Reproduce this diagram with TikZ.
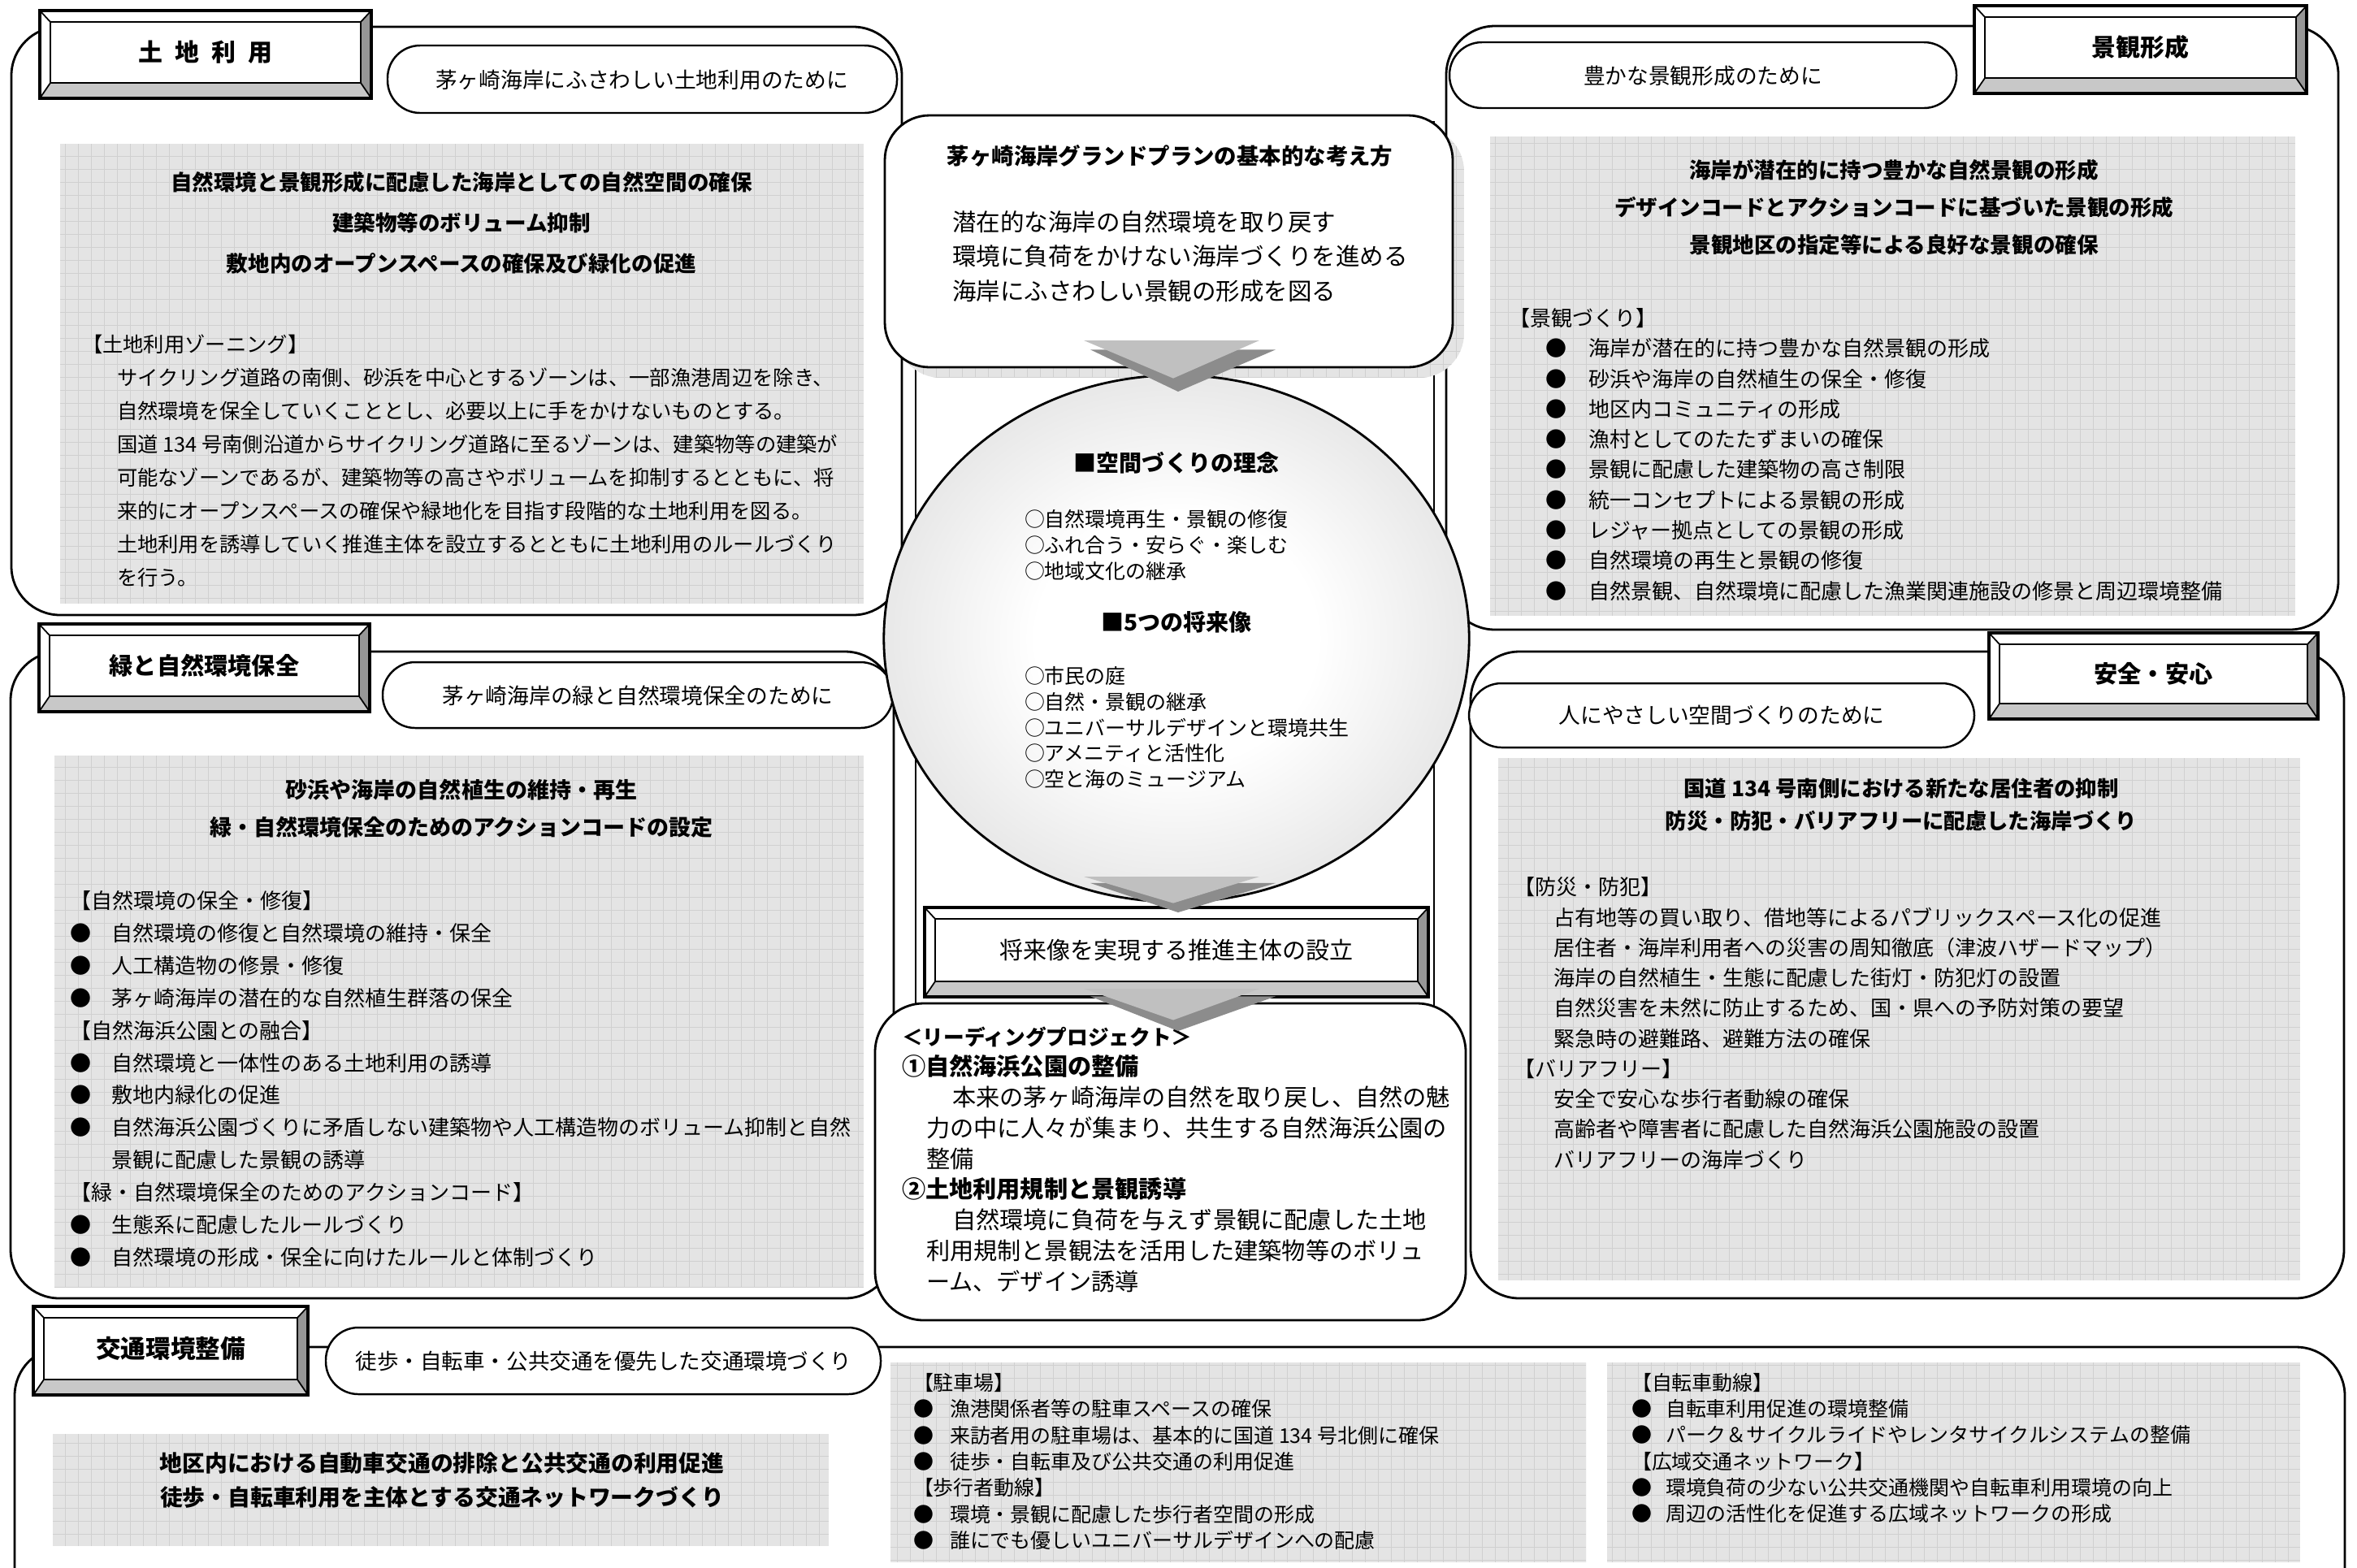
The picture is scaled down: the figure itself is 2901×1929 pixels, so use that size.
\documentclass[tikz,border=0pt]{standalone}
\usepackage{fontspec}
\setmainfont{Noto Sans CJK JP}
\usetikzlibrary{calc}
\definecolor{boxfill}{RGB}{228,228,228}
\definecolor{gridc}{RGB}{208,208,208}
\definecolor{bevlight}{RGB}{200,200,200}
\definecolor{bevdark}{RGB}{150,150,150}
\definecolor{chevlight}{RGB}{192,192,192}
\definecolor{chevdark}{RGB}{140,140,140}
\definecolor{ballout}{RGB}{188,188,188}
\pgfdeclareradialshading{ballsh}{\pgfpoint{0bp}{0bp}}{color(0bp)=(white); color(12bp)=(white); color(50bp)=(ballout)}
\newcommand\fs[2]{\fontsize{#1}{#2}\selectfont}
\newcommand\bul[1]{\makebox[#1][l]{●}}
\tikzset{
  sect/.style={draw=black, line width=0.8pt, fill=white, rounded corners=0.6cm},
  pill/.style={draw=black, line width=0.7pt, fill=white, rounded corners=0.4cm},
  txt/.style={inner sep=0pt, outer sep=0pt, align=left, anchor=west},
  ctxt/.style={inner sep=0pt, outer sep=0pt, align=center},
}
\newcommand\gridfill[4]{%
  \fill[boxfill] (#1,#2) rectangle (#3,#4);
  \begin{scope}
    \clip (#1,#2) rectangle (#3,#4);
    \draw[gridc, line width=0.25pt] \foreach \g in {0,16,...,2912} {(\g,#2) -- (\g,#4)};
    \draw[gridc, line width=0.25pt] \foreach \g in {0,16,...,1936} {(#1,\g) -- (#3,\g)};
  \end{scope}}
\newcommand\bevel[6]{%
  \fill[white] (#2,#3) rectangle (#4,#5);
  \fill[bevlight] (#2,#5) -- (#4,#5) -- ({#4-13},{#5-19}) -- ({#2+13},{#5-19}) -- cycle;
  \fill[bevdark] (#4,#3) -- (#4,#5) -- ({#4-13},{#5-19}) -- ({#4-13},{#3+14}) -- cycle;
  \draw[line width=0.9pt] (#2,#3) rectangle (#4,#5);
  \draw[line width=0.6pt] ({#2+13},{#3+14}) rectangle ({#4-13},{#5-19});
  \draw[line width=0.5pt] (#2,#3) -- ({#2+13},{#3+14}) (#4,#3) -- ({#4-13},{#3+14})
     (#2,#5) -- ({#2+13},{#5-19}) (#4,#5) -- ({#4-13},{#5-19});
  \node[ctxt] (#1) at ({(#2+#4)/2},{(#3+#5-5)/2}) {#6};}
% name, cx, top, height
\newcommand\chev[4]{%
  \coordinate (#1) at (#2,#3);
  \fill[chevdark] ({#2-108},{#3+0.18*#4}) -- ({#2+120},{#3+0.18*#4}) -- (#2,{#3+#4}) -- cycle;
  \fill[chevlight] ({#2-116},#3) -- ({#2+100},#3) -- ({#2-6},{#3+0.74*#4}) -- cycle;}

\begin{document}
\begin{tikzpicture}[x=0.01cm,y=-0.01cm]
\useasboundingbox (0,0) rectangle (2901,1929);
\clip (0,0) rectangle (2901,1929);
\fill[white] (0,0) rectangle (2901,1929);

% ---------- section frames
\draw[sect] (14,33) rectangle (1110,757);
\draw[sect] (1780,32) rectangle (2878,775);
\draw[sect] (13,802) rectangle (1100,1598);
\draw[sect] (1810,802) rectangle (2885,1598);
\draw[sect] (18,1658) rectangle (2886,2000);

% ---------- top-left: land use
\gridfill{74}{177}{1063}{743}
\bevel{tlt}{49}{13}{457}{121}{\bfseries\fs{8.5}{10}土\hspace{0.5em}地\hspace{0.5em}利\hspace{0.5em}用}
\draw[pill] (477,56) rectangle (1104,139);
\node[ctxt, font=\fs{7.6}{9}] (tlp) at (790,98) {茅ヶ崎海岸にふさわしい土地利用のために};
\node[ctxt, font=\bfseries\fs{7.54}{14.2}] (tlh) at (568,274) {自然環境と景観形成に配慮した海岸としての自然空間の確保\\建築物等のボリューム抑制\\敷地内のオープンスペースの確保及び緑化の促進};
\node[txt, font=\fs{7.2}{11.67}] (tlk) at (101,424) {【土地利用ゾーニング】};
\node[txt, font=\fs{7.2}{11.67}] (tlb) at (144,588) {サイクリング道路の南側、砂浜を中心とするゾーンは、一部漁港周辺を除き、\\自然環境を保全していくこととし、必要以上に手をかけないものとする。\\国道 134 号南側沿道からサイクリング道路に至るゾーンは、建築物等の建築が\\可能なゾーンであるが、建築物等の高さやボリュームを抑制するとともに、将\\来的にオープンスペースの確保や緑地化を目指す段階的な土地利用を図る。\\土地利用を誘導していく推進主体を設立するとともに土地利用のルールづくり\\を行う。};

% ---------- top-right: landscape
\gridfill{1834}{168}{2825}{758}
\bevel{trt}{2430}{7}{2839}{115}{\bfseries\fs{8.5}{10}景観形成}
\draw[pill] (1784,52) rectangle (2408,133);
\node[ctxt, font=\fs{7.6}{9}] (trp) at (2096,93) {豊かな景観形成のために};
\node[ctxt, font=\bfseries\fs{7.54}{13.1}] (trh) at (2331,255) {海岸が潜在的に持つ豊かな自然景観の形成\\デザインコードとアクションコードに基づいた景観の形成\\景観地区の指定等による良好な景観の確保};
\node[txt, font=\fs{7.4}{10.6}] (trk) at (1857,392) {【景観づくり】};
\node[txt, font=\fs{7.4}{10.6}] (trb) at (1902,578) {\bul{0.53cm}海岸が潜在的に持つ豊かな自然景観の形成\\\bul{0.53cm}砂浜や海岸の自然植生の保全・修復\\\bul{0.53cm}地区内コミュニティの形成\\\bul{0.53cm}漁村としてのたたずまいの確保\\\bul{0.53cm}景観に配慮した建築物の高さ制限\\\bul{0.53cm}統一コンセプトによる景観の形成\\\bul{0.53cm}レジャー拠点としての景観の形成\\\bul{0.53cm}自然環境の再生と景観の修復\\\bul{0.53cm}自然景観、自然環境に配慮した漁業関連施設の修景と周辺環境整備};

% ---------- middle-left: green
\gridfill{67}{930}{1063}{1585}
\bevel{mlt}{48}{768}{455}{876}{\bfseries\fs{8.3}{10}緑と自然環境保全}
\draw[pill] (471,815) rectangle (1099,896);
\node[ctxt, font=\fs{7.6}{9}] (mlp) at (785,856) {茅ヶ崎海岸の緑と自然環境保全のために};
\node[ctxt, font=\bfseries\fs{7.68}{13.09}] (mlh) at (568,995) {砂浜や海岸の自然植生の維持・再生\\緑・自然環境保全のためのアクションコードの設定};
\node[txt, font=\fs{7.4}{11.33}] (mlb) at (86,1328) {【自然環境の保全・修復】\\\bul{0.51cm}自然環境の修復と自然環境の維持・保全\\\bul{0.51cm}人工構造物の修景・修復\\\bul{0.51cm}茅ヶ崎海岸の潜在的な自然植生群落の保全\\【自然海浜公園との融合】\\\bul{0.51cm}自然環境と一体性のある土地利用の誘導\\\bul{0.51cm}敷地内緑化の促進\\\bul{0.51cm}自然海浜公園づくりに矛盾しない建築物や人工構造物のボリューム抑制と自然\\\hspace*{0.51cm}景観に配慮した景観の誘導\\【緑・自然環境保全のためのアクションコード】\\\bul{0.51cm}生態系に配慮したルールづくり\\\bul{0.51cm}自然環境の形成・保全に向けたルールと体制づくり};

% ---------- middle-right: safety
\gridfill{1844}{933}{2831}{1576}
\bevel{mrt}{2448}{779}{2853}{885}{\bfseries\fs{8.3}{10}安全・安心}
\draw[pill] (1808,841) rectangle (2430,920);
\node[ctxt, font=\fs{7.6}{9}] (mrp) at (2119,880) {人にやさしい空間づくりのために};
\node[ctxt, font=\bfseries\fs{7.5}{11.38}] (mrh) at (2340,990) {国道 134 号南側における新たな居住者の抑制\\防災・防犯・バリアフリーに配慮した海岸づくり};
\node[txt, font=\fs{7.4}{10.59}] (mrb) at (1863,1259.5) {【防災・防犯】\\\hspace*{0.49cm}占有地等の買い取り、借地等によるパブリックスペース化の促進\\\hspace*{0.49cm}居住者・海岸利用者への災害の周知徹底（津波ハザードマップ）\\\hspace*{0.49cm}海岸の自然植生・生態に配慮した街灯・防犯灯の設置\\\hspace*{0.49cm}自然災害を未然に防止するため、国・県への予防対策の要望\\\hspace*{0.49cm}緊急時の避難路、避難方法の確保\\【バリアフリー】\\\hspace*{0.49cm}安全で安心な歩行者動線の確保\\\hspace*{0.49cm}高齢者や障害者に配慮した自然海浜公園施設の設置\\\hspace*{0.49cm}バリアフリーの海岸づくり};

% ---------- bottom: traffic
\gridfill{65}{1765}{1020}{1903}
\gridfill{1096}{1677}{1952}{1923}
\gridfill{1978}{1677}{2831}{1923}
\bevel{bt}{41}{1608}{379}{1717}{\bfseries\fs{8.7}{10}交通環境整備}
\draw[pill] (401,1634) rectangle (1084,1716);
\node[ctxt, font=\fs{7.55}{9}] (bp) at (743,1675) {徒歩・自転車・公共交通を優先した交通環境づくり};
\node[ctxt, font=\bfseries\fs{7.9}{12.2}] (bh) at (544,1822) {地区内における自動車交通の排除と公共交通の利用促進\\徒歩・自転車利用を主体とする交通ネットワークづくり};
\node[txt, font=\fs{7.1}{9.2}] (bm) at (1124,1799) {【駐車場】\\\bul{0.45cm}漁港関係者等の駐車スペースの確保\\\bul{0.45cm}来訪者用の駐車場は、基本的に国道 134 号北側に確保\\\bul{0.45cm}徒歩・自転車及び公共交通の利用促進\\【歩行者動線】\\\bul{0.45cm}環境・景観に配慮した歩行者空間の形成\\\bul{0.45cm}誰にでも優しいユニバーサルデザインへの配慮};
\node[txt, font=\fs{7.1}{9.2}, anchor=north west] (br) at (2008,1690) {【自転車動線】\\\bul{0.42cm}自転車利用促進の環境整備\\\bul{0.42cm}パーク＆サイクルライドやレンタサイクルシステムの整備\\【広域交通ネットワーク】\\\bul{0.42cm}環境負荷の少ない公共交通機関や自転車利用環境の向上\\\bul{0.42cm}周辺の活性化を促進する広域ネットワークの形成};

% ---------- central column
\draw[line width=0.7pt, fill=white] (1127,150) rectangle (1765,1240);
\begin{scope}
  \clip[rounded corners=0.55cm] (1103,156) rectangle (1802,465);
  \gridfill{1103}{156}{1802}{465}
\end{scope}
\draw[line width=0.8pt, fill=white, rounded corners=0.55cm] (1089,142) rectangle (1788,452);
\node[ctxt, font=\bfseries\fs{7.8}{10}] (kh) at (1440,192) {茅ヶ崎海岸グランドプランの基本的な考え方};
\node[txt, font=\fs{8.39}{12.09}] (kb) at (1172,315.5) {潜在的な海岸の自然環境を取り戻す\\環境に負荷をかけない海岸づくりを進める\\海岸にふさわしい景観の形成を図る};

\shade[shading=ballsh] (1448,786) ellipse [x radius=3.6cm, y radius=3.24cm];
\draw[line width=0.8pt] (1448,786) ellipse [x radius=3.6cm, y radius=3.24cm];
\node[ctxt, font=\bfseries\fs{7.97}{9}] (c1) at (1448,570) {■空間づくりの理念};
\node[txt, font=\fs{7.1}{9.1}] (c2) at (1261,671) {○自然環境再生・景観の修復\\○ふれ合う・安らぐ・楽しむ\\○地域文化の継承};
\node[ctxt, font=\bfseries\fs{7.97}{9}] (c3) at (1448,766) {■5つの将来像};
\node[txt, font=\fs{7.1}{9.03}] (c4) at (1261,895.5) {○市民の庭\\○自然・景観の継承\\○ユニバーサルデザインと環境共生\\○アメニティと活性化\\○空と海のミュージアム};

\bevel{sui}{1138}{1117}{1758}{1227}{\fs{8.25}{10}将来像を実現する推進主体の設立}

\draw[line width=0.8pt, fill=white, rounded corners=0.6cm] (1077,1235) rectangle (1804,1625);
\node[txt, font=\fs{8.3}{10.74}] (lead) at (1110,1427) {{\bfseries\fs{7.3}{10.74}＜リーディングプロジェクト＞}\\{\bfseries ①自然海浜公園の整備}\\\hspace*{0.62cm}本来の茅ヶ崎海岸の自然を取り戻し、自然の魅\\\hspace*{0.3cm}力の中に人々が集まり、共生する自然海浜公園の\\\hspace*{0.3cm}整備\\{\bfseries ②土地利用規制と景観誘導}\\\hspace*{0.62cm}自然環境に負荷を与えず景観に配慮した土地\\\hspace*{0.3cm}利用規制と景観法を活用した建築物等のボリュ\\\hspace*{0.3cm}ーム、デザイン誘導};

\chev{ch1}{1450}{419}{63}
\chev{ch2}{1450}{1079}{44}
\chev{ch3}{1450}{1217}{52}
\end{tikzpicture}
\end{document}
